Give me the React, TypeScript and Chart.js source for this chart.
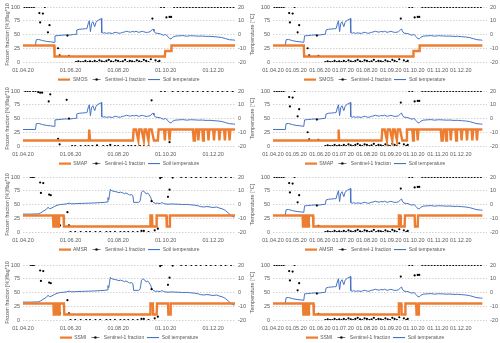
import React, { useEffect, useRef } from "react";
import { Chart, registerables } from "chart.js";
Chart.register(...registerables);

// ---- axis ticks (days since 01.04.20) ----
const MONTH_DAYS = [0, 30, 61, 91, 122, 153, 183, 214, 244];
const MONTH_LABELS = ["01.04.20", "01.05.20", "01.06.20", "01.07.20", "01.08.20", "01.09.20", "01.10.20", "01.11.20", "01.12.20"];
const LEFT_TICK_DAYS = [0, 61, 122, 183, 244];

// ---- passive microwave flags (flag*10) ----
const SMOS_FLAGS: [number, number][] = [
  [0, 30], [40, 30], [40.5, 10], [182, 10], [182.5, 20], [190, 20], [190.5, 30], [272, 30],
];
const SMAP_FLAGS: [number, number][] = [
  [0, 10], [84.5, 10], [85, 30], [85.6, 30], [86, 10], [141, 10], [142, 30], [145, 30], [148, 10], [149, 30],
  [152, 30], [155, 10], [156, 30], [158, 30], [161, 10], [162, 30], [165, 30], [168, 10], [173, 10], [174, 30],
  [181, 30], [182, 10], [183, 30], [187, 30], [188, 10], [189, 30], [218, 30], [219, 10], [220.5, 10], [221.5, 30],
  [224, 30], [225, 10], [226, 30], [230, 30], [231, 10], [232, 30], [237, 30], [238, 10], [239, 30], [244, 30],
  [245, 10], [246, 30], [251, 30], [252, 10], [253, 30], [258, 30], [259, 10], [260, 30], [264, 30], [265, 10],
  [266, 30], [272, 30],
];
const AMSR_FLAGS: [number, number][] = [
  [0, 30], [38.5, 30], [39, 10], [41, 10], [41.5, 30], [43.5, 30], [44, 10], [46, 10], [46.5, 30], [52, 30],
  [52.5, 10], [163, 10], [163.5, 30], [165.5, 30], [166, 10], [171, 10], [171.5, 30], [184, 30], [184.5, 10],
  [188, 10], [188.5, 30], [272, 30],
];
const SSMI_FLAGS: [number, number][] = [
  [0, 30], [39, 30], [39.5, 10], [41.5, 10], [42, 30], [44, 30], [44.5, 10], [46.5, 10], [47, 30], [52.5, 30],
  [53, 10], [163, 10], [163.5, 30], [166.5, 30], [167, 10], [171.5, 10], [172, 30], [186, 30], [186.5, 10],
  [189, 10], [189.5, 30], [272, 30],
];

// ---- Sentinel-1 frozen fraction [%] ----
const S1_A: [number, number][] = [
  [2, 100], [5, 100], [8, 100], [11, 100], [14, 100], [21, 89], [22, 72], [25.5, 88], [28, 100], [32, 54], [34, 67],
  [45, 25], [47, 12], [57, 48], [59, 11],
  [68, 0], [71, 1], [74, 0], [77, 0], [80, 2], [83, 0], [86, 1], [89, 0], [92, 2], [95, 0], [98, 3], [101, 1],
  [104, 0], [107, 2], [110, 4], [113, 1], [116, 0], [119, 3], [122, 2], [125, 0], [128, 1], [131, 4], [134, 0],
  [137, 2], [140, 1], [143, 0], [146, 3], [149, 1], [152, 0], [155, 4], [158, 2], [161, 0], [164, 5], [170, 3],
  [173, 0], [175, 2],
  [166, 79], [177, 100], [181, 100], [184, 81], [188, 82], [190, 82], [194, 100], [198, 100], [202, 100],
  [206, 100], [210, 100], [214, 100], [218, 100], [222, 100], [226, 100], [230, 100], [234, 100], [238, 100],
  [242, 100], [246, 100], [250, 100], [254, 100], [258, 100], [262, 100], [266, 100], [270, 100],
];
const S1_B: [number, number][] = [
  [10, 100], [12, 100], [14, 100], [22, 90], [23, 71], [26, 89], [33.5, 68], [35.6, 67], [45, 20], [47.5, 12],
  [57, 36], [59, 12],
  [61, 0], [67, 0], [74, 0], [81, 0], [86, 0], [93, 0], [99, 0], [107, 0], [112, 0], [118, 0], [125, 0],
  [130, 0], [135, 0], [141, 0], [147, 0], [152, 2], [155, 2], [161, 0],
  [165, 56], [169, 3], [173, 6], [176, 98], [178, 100], [186, 64], [188, 77], [192, 99], [203, 100], [209, 100],
  [216, 100], [222, 100], [228, 100], [235, 100], [241, 100], [247, 100], [254, 100], [260, 100], [267, 100],
];
const S1_C: [number, number][] = [
  [3, 100], [6, 100], [9, 100], [13, 100], [16, 100], [19.5, 98], [22, 97], [24.6, 97], [33, 81], [35, 94],
  [45, 13], [47, 3], [56, 84], [59, 50],
  [63, 0], [67, 0], [74, 0], [80, 0], [84, 0], [89, 0], [95, 1], [103, 0], [108, 0], [112, 2], [118, 0],
  [122, 0], [129, 0], [135, 0], [139, 0], [144, 0], [150, 0], [155, 0], [161, 0],
  [165, 83], [177, 100], [182, 100], [188, 7], [192, 100], [199, 100], [205, 100], [211, 100], [218, 100],
  [224, 100], [231, 100], [237, 100], [243, 100], [250, 100], [256, 100], [262, 100], [269, 100],
];

// ---- soil temperature [°C] ----
const TEMP_A: [number, number][] = [
  [0, -8], [16, -8], [17, -3.8], [20, -3.6], [25, -4.4], [30, -5], [35, -5.3], [40, -5.7], [41, -1], [45, -0.8],
  [50, -0.5], [55, -0.3], [60, -0.4], [65, 0], [68, 0.2], [69, 3.3], [72, 3.8], [76, 4], [80, 4.2], [82, 4.3],
  [84, 8.6], [85, 10], [86.5, 2.1], [88, 8], [89.6, 9.3], [92, 5.7], [93.5, 8.6], [95, 9.8], [97, 10.5],
  [99.5, 11.2], [100.4, 11.7], [101, 1.4], [103, 1.0], [105, 1.3], [107, 0.8], [110, 1.2], [113, 0.9], [115, 0.8],
  [118, 1.6], [120, 1.5], [123, 0.9], [125, 1], [128, 1.6], [130, 1.8], [133, 2.4], [135, 2], [138, 1.7],
  [140, 2.2], [143, 1.9], [145, 2.4], [148, 1.6], [150, 1.8], [153, 2.3], [155, 2], [158, 1.5], [160, 1.6],
  [163, 2], [166, 3.6], [167, 4], [168, 2.5], [170, 1], [173, 0.8], [176, 0.5], [180, -0.5], [183, 0],
  [186, -1.5], [188, -3], [190, -3.2], [192, -2], [195, -1.2], [200, -1], [205, -0.8], [210, -1.2], [215, -0.9],
  [220, -1], [225, -1.2], [230, -1.1], [235, -1.4], [240, -1.3], [245, -1.6], [250, -1.8], [255, -2.2],
  [260, -3], [265, -3.8], [270, -4], [272, -4.2],
];
const TEMP_B: [number, number][] = [
  [0, -7], [10, -7], [20, -6.8], [23, -6], [27, -4.5], [30, -3.5], [32, -2], [34, -3], [36, -2.8], [40, -1.5],
  [44, -0.5], [48, 0], [52, 0.2], [56, 0.5], [60, 1], [62, 0.5], [66, 0.6], [70, 0.7], [75, 0.8], [80, 0.9],
  [85, 1], [90, 1.1], [95, 1.2], [100, 1.4], [105, 1.6], [108, 1.8], [109, 5], [110, 3.5], [111, 7], [112, 11],
  [114, 10], [117, 9.5], [120, 9.2], [123, 8.6], [125, 9], [128, 8.5], [130, 7.8], [132, 8.4], [135, 7.5],
  [137, 6.8], [139, 7.2], [141, 6.5], [142, 1.5], [145, 1.6], [148, 1.5], [150, 2.2], [151, 5], [152, 9],
  [154, 10], [156, 9.2], [158, 7.7], [160, 8.3], [162, 7], [164, 5], [165, 3], [166, 2.2], [168, 1.2],
  [170, 0.8], [173, 1], [176, 0.6], [178, 1.5], [180, 0.8], [182, 0.5], [186, 0.2], [190, 0.4], [195, 0.3],
  [200, 0.2], [205, 0], [210, 0.1], [215, -0.2], [220, -0.5], [225, -1], [228, -1.6], [232, -1.8], [236, -1.5],
  [240, -1.8], [244, -2.2], [248, -1.8], [252, -2.6], [256, -3.2], [260, -4.5], [264, -6.5], [268, -8.5],
  [271, -9.2],
];

type Pair = [number, number][];
interface PanelCfg { col: number; row: number; product: string; flags: Pair; dots: Pair; temp: Pair; }

const PANELS: PanelCfg[] = [
  { col: 0, row: 0, product: "SMOS", flags: SMOS_FLAGS, dots: S1_A, temp: TEMP_A },
  { col: 0, row: 1, product: "SMAP", flags: SMAP_FLAGS, dots: S1_C, temp: TEMP_A },
  { col: 0, row: 2, product: "AMSR", flags: AMSR_FLAGS, dots: S1_B, temp: TEMP_B },
  { col: 0, row: 3, product: "SSMI", flags: SSMI_FLAGS, dots: S1_B, temp: TEMP_B },
  { col: 1, row: 0, product: "SMOS", flags: SMOS_FLAGS, dots: S1_A, temp: TEMP_A },
  { col: 1, row: 1, product: "SMAP", flags: SMAP_FLAGS, dots: S1_A, temp: TEMP_A },
  { col: 1, row: 2, product: "AMSR", flags: AMSR_FLAGS, dots: S1_A, temp: TEMP_A },
  { col: 1, row: 3, product: "SSMI", flags: SSMI_FLAGS, dots: S1_A, temp: TEMP_A },
];

const ROW_TOPS = [0, 84, 170, 258];
const ORANGE = "#ED7D31";
const BLUE = "#4472C4";
const TXT = "#595959";
const FONT = "'Liberation Sans', Arial, sans-serif";

const toXY = (p: Pair) => p.map(([x, y]) => ({ x, y }));

function makeSample(kind: string): HTMLCanvasElement {
  const c = document.createElement("canvas");
  c.width = 12;
  c.height = 5;
  const g = c.getContext("2d")!;
  if (kind === "flag") {
    g.fillStyle = ORANGE;
    g.fillRect(0, 1.5, 12, 2.2);
  } else if (kind === "dots") {
    g.fillStyle = "#444";
    g.fillRect(2, 2.2, 8, 0.7);
    g.fillStyle = "#000";
    g.beginPath();
    g.arc(6, 2.5, 1.2, 0, Math.PI * 2);
    g.fill();
  } else {
    g.fillStyle = BLUE;
    g.fillRect(0, 2, 12, 1.1);
  }
  return c;
}

function Panel({ cfg }: { cfg: PanelCfg }) {
  const ref = useRef<HTMLCanvasElement>(null);
  const isLeft = cfg.col === 0;
  const width = isLeft ? 258 : 250;
  const left = isLeft ? 0 : 250;
  const top = ROW_TOPS[cfg.row];

  useEffect(() => {
    const samples = [makeSample("flag"), makeSample("dots"), makeSample("temp")];
    const tickDays = isLeft ? LEFT_TICK_DAYS : MONTH_DAYS;
    const rightTitle = {
      id: "rightTitle",
      afterDraw(chart: any) {
        if (!isLeft) return;
        const { ctx, chartArea } = chart;
        ctx.save();
        ctx.translate(252, (chartArea.top + chartArea.bottom) / 2);
        ctx.rotate(-Math.PI / 2);
        ctx.font = `5.5px ${FONT}`;
        ctx.fillStyle = TXT;
        ctx.textAlign = "center";
        ctx.textBaseline = "middle";
        ctx.fillText("Temperature [°C]", 0, 0);
        ctx.restore();
      },
    };
    const chart = new Chart(ref.current!, {
      type: "line",
      data: {
        datasets: [
          {
            label: cfg.product,
            data: toXY(cfg.flags),
            borderColor: ORANGE,
            backgroundColor: ORANGE,
            borderWidth: 2.4,
            pointRadius: 0,
            tension: 0,
            yAxisID: "yL",
          },
          {
            label: "Sentinel-1 fraction",
            data: toXY(cfg.dots),
            showLine: false,
            borderColor: "#000",
            backgroundColor: "#000",
            pointRadius: 1.1,
            pointBorderWidth: 0,
            yAxisID: "yL",
          },
          {
            label: "Soil temperature",
            data: toXY(cfg.temp),
            borderColor: BLUE,
            backgroundColor: BLUE,
            borderWidth: 1,
            pointRadius: 0,
            tension: 0,
            yAxisID: "yR",
          },
        ] as any,
      },
      options: {
        responsive: false,
        animation: false,
        devicePixelRatio: 1,
        layout: { padding: { top: 7, bottom: -6, left: 0, right: 0 } },
        plugins: {
          tooltip: { enabled: false },
          legend: {
            position: "bottom",
            labels: {
              usePointStyle: true,
              pointStyleWidth: 12,
              boxHeight: 5,
              padding: 3,
              color: TXT,
              font: { size: 5, family: FONT },
              generateLabels: (ch: any) =>
                ch.data.datasets.map((ds: any, i: number) => ({
                  text: ds.label,
                  pointStyle: samples[i],
                  datasetIndex: i,
                  fillStyle: "transparent",
                  strokeStyle: "transparent",
                  lineWidth: 0,
                  hidden: false,
                  fontColor: TXT,
                })),
            },
          },
        },
        scales: {
          x: {
            type: "linear",
            min: 0,
            max: isLeft ? 272 : 278,
            afterBuildTicks: (s: any) => {
              s.ticks = tickDays.map((v) => ({ value: v }));
            },
            afterFit: (s: any) => {
              s.height = 12;
            },
            grid: { display: false, drawTicks: false },
            border: { display: false },
            ticks: {
              autoSkip: false,
              maxRotation: 0,
              minRotation: 0,
              padding: 5,
              color: TXT,
              font: { size: 5.5, family: FONT },
              callback: (v: any) => {
                const i = MONTH_DAYS.indexOf(Number(v));
                return i >= 0 ? MONTH_LABELS[i] : "";
              },
            },
          },
          yL: {
            type: "linear",
            position: "left",
            min: 0,
            max: 100,
            afterFit: (s: any) => {
              s.width = 23;
            },
            grid: { color: "#c8c8c8", lineWidth: 0.8, drawTicks: false },
            border: { display: false, dash: [1.5, 1.5] },
            ticks: { stepSize: 25, padding: 3, color: TXT, font: { size: 5.5, family: FONT } },
            title: {
              display: isLeft,
              text: "Frozen fraction [%]/flag*10",
              color: TXT,
              font: { size: 5.3, family: FONT },
              padding: { top: 4, bottom: 0 },
            },
          },
          yR: {
            type: "linear",
            position: "right",
            min: -20,
            max: 20,
            afterFit: (s: any) => {
              s.width = isLeft ? 23 : 13;
            },
            grid: { display: false, drawTicks: false },
            border: { display: false },
            ticks: { stepSize: 5, padding: 3, color: TXT, font: { size: 5.5, family: FONT } },
          },
        },
      } as any,
      plugins: [rightTitle as any],
    });
    return () => chart.destroy();
  }, []);

  return (
    <canvas
      ref={ref}
      width={width}
      height={86}
      style={{ position: "absolute", left: left + "px", top: top + "px", width: width + "px", height: "86px" }}
    />
  );
}

export default function App() {
  return (
    <div
      style={{
        position: "absolute",
        left: 0,
        top: 0,
        width: "500px",
        height: "343px",
        overflow: "hidden",
        background: "#fff",
      }}
    >
      {PANELS.map((p, i) => (
        <Panel key={i} cfg={p} />
      ))}
    </div>
  );
}
